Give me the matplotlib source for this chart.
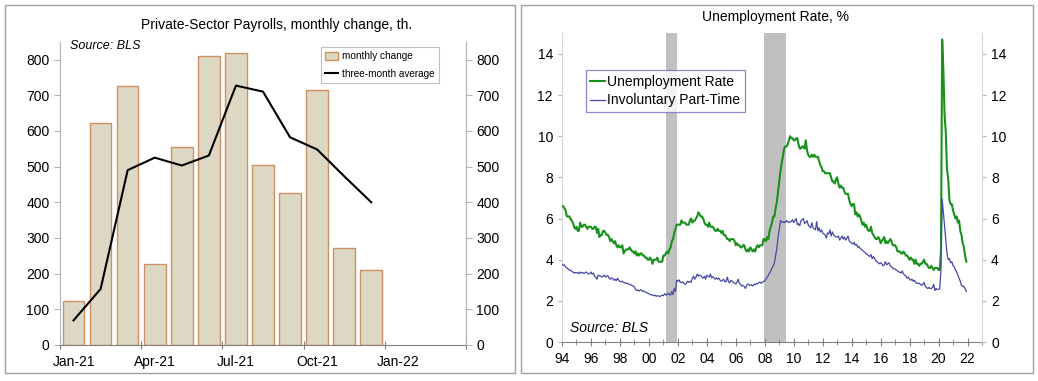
import matplotlib
matplotlib.use("Agg")
import matplotlib.pyplot as plt
from matplotlib.patches import Rectangle
import numpy as np

plt.rcParams['font.family'] = ['Liberation Sans', 'DejaVu Sans']

# left panel data: private payrolls, thousands
month_labels = ["Jan-21", "Apr-21", "Jul-21", "Oct-21", "Jan-22"]
payrolls = [122, 622, 725, 227, 556, 809, 818, 505, 425, 715, 271, 211]
three_month_avg = [69, 157, 490, 525, 503, 531, 727, 710, 582, 548, 473, 400]

# right panel data: monthly, Jan-1994 .. Dec-2021
unemp_rate = [
    6.6, 6.6, 6.5, 6.4, 6.1, 6.1, 6.1, 6.0, 5.9, 5.8, 5.6, 5.5,
    5.6, 5.4, 5.4, 5.8, 5.6, 5.6, 5.7, 5.7, 5.6, 5.5, 5.6, 5.6,
    5.6, 5.5, 5.5, 5.6, 5.6, 5.3, 5.5, 5.1, 5.2, 5.2, 5.4, 5.4,
    5.3, 5.2, 5.2, 5.1, 4.9, 5.0, 4.9, 4.8, 4.9, 4.7, 4.6, 4.7,
    4.6, 4.6, 4.7, 4.3, 4.4, 4.5, 4.5, 4.5, 4.6, 4.5, 4.4, 4.4,
    4.3, 4.4, 4.2, 4.3, 4.2, 4.3, 4.3, 4.2, 4.2, 4.1, 4.1, 4.0,
    4.0, 4.1, 4.0, 3.8, 4.0, 4.0, 4.0, 4.1, 3.9, 3.9, 3.9, 3.9,
    4.2, 4.2, 4.3, 4.4, 4.3, 4.5, 4.6, 4.9, 5.0, 5.3, 5.5, 5.7,
    5.7, 5.7, 5.7, 5.9, 5.8, 5.8, 5.8, 5.7, 5.7, 5.7, 5.9, 6.0,
    5.8, 5.9, 5.9, 6.0, 6.1, 6.3, 6.2, 6.1, 6.1, 6.0, 5.8, 5.7,
    5.7, 5.6, 5.8, 5.6, 5.6, 5.6, 5.5, 5.4, 5.4, 5.5, 5.4, 5.4,
    5.3, 5.4, 5.2, 5.2, 5.1, 5.0, 5.0, 4.9, 5.0, 5.0, 5.0, 4.9,
    4.7, 4.8, 4.7, 4.7, 4.6, 4.6, 4.7, 4.7, 4.5, 4.4, 4.5, 4.4,
    4.6, 4.5, 4.4, 4.5, 4.4, 4.6, 4.7, 4.6, 4.7, 4.7, 4.7, 5.0,
    5.0, 4.9, 5.1, 5.0, 5.4, 5.6, 5.8, 6.1, 6.1, 6.5, 6.8, 7.3,
    7.8, 8.3, 8.7, 9.0, 9.4, 9.5, 9.5, 9.6, 9.8, 10.0, 9.9, 9.9,
    9.8, 9.8, 9.9, 9.9, 9.6, 9.4, 9.4, 9.5, 9.5, 9.4, 9.8, 9.3,
    9.1, 9.0, 9.0, 9.1, 9.0, 9.1, 9.0, 9.0, 9.0, 8.8, 8.6, 8.5,
    8.3, 8.3, 8.2, 8.2, 8.2, 8.2, 8.2, 8.0, 7.8, 7.8, 7.7, 7.9,
    8.0, 7.7, 7.5, 7.6, 7.5, 7.5, 7.3, 7.2, 7.2, 7.2, 6.9, 6.7,
    6.6, 6.7, 6.7, 6.2, 6.3, 6.1, 6.2, 6.1, 5.9, 5.7, 5.8, 5.6,
    5.7, 5.5, 5.4, 5.4, 5.6, 5.3, 5.2, 5.1, 5.0, 5.0, 5.1, 5.0,
    4.8, 4.9, 5.0, 5.1, 4.8, 4.9, 4.8, 4.9, 5.0, 4.9, 4.7, 4.7,
    4.7, 4.6, 4.4, 4.4, 4.4, 4.3, 4.3, 4.4, 4.3, 4.2, 4.2, 4.1,
    4.0, 4.1, 4.0, 4.0, 3.8, 4.0, 3.8, 3.8, 3.7, 3.8, 3.8, 3.9,
    4.0, 3.8, 3.8, 3.7, 3.6, 3.6, 3.7, 3.6, 3.5, 3.6, 3.6, 3.6,
    3.5, 3.5, 4.4, 14.7, 13.2, 11.0, 10.2, 8.4, 7.9, 6.9, 6.7, 6.7,
    6.4, 6.2, 6.0, 6.1, 5.8, 5.9, 5.4, 5.2, 4.8, 4.6, 4.2, 3.9,
]
invol_part_time = [
    3.78, 3.72, 3.75, 3.65, 3.60, 3.55, 3.50, 3.48, 3.45, 3.40, 3.35, 3.38,
    3.35, 3.38, 3.32, 3.40, 3.35, 3.38, 3.33, 3.36, 3.40, 3.35, 3.30, 3.32,
    3.40, 3.30, 3.35, 3.20, 3.15, 3.05, 3.25, 3.22, 3.20, 3.15, 3.20, 3.25,
    3.15, 3.20, 3.22, 3.10, 3.05, 3.12, 3.08, 3.00, 3.05, 2.98, 3.10, 3.00,
    2.95, 2.92, 2.95, 2.90, 2.88, 2.85, 2.86, 2.82, 2.80, 2.78, 2.75, 2.72,
    2.68, 2.55, 2.50, 2.52, 2.48, 2.55, 2.50, 2.45, 2.48, 2.42, 2.40, 2.38,
    2.35, 2.30, 2.30, 2.28, 2.25, 2.28, 2.22, 2.25, 2.24, 2.20, 2.25, 2.27,
    2.25, 2.35, 2.28, 2.30, 2.38, 2.30, 2.28, 2.45, 2.30, 2.60, 2.45, 3.00,
    2.95, 3.02, 2.90, 2.88, 2.92, 2.85, 2.80, 2.85, 2.95, 2.90, 2.95, 2.90,
    3.10, 3.20, 3.05, 3.15, 3.30, 3.20, 3.25, 3.22, 3.15, 3.10, 3.20, 3.05,
    3.25, 3.20, 3.15, 3.30, 3.12, 3.18, 3.10, 3.05, 3.12, 3.05, 3.10, 3.00,
    2.95, 3.00, 3.05, 2.92, 2.95, 3.15, 2.92, 2.88, 3.00, 2.95, 2.90, 2.85,
    2.82, 2.90, 3.05, 2.85, 2.80, 2.72, 2.75, 2.70, 2.60, 2.75, 2.82, 2.78,
    2.75, 2.78, 2.72, 2.80, 2.78, 2.85, 2.82, 2.88, 2.92, 2.85, 2.90, 2.95,
    2.95, 3.05, 3.15, 3.25, 3.35, 3.45, 3.60, 3.70, 3.85, 4.20, 4.55, 5.10,
    5.45, 5.90, 5.85, 5.80, 5.85, 5.80, 5.90, 5.85, 5.80, 5.85, 5.85, 5.95,
    5.80, 5.90, 6.00, 5.70, 5.75, 5.65, 5.90, 5.95, 6.00, 5.75, 5.80, 5.90,
    5.70, 5.60, 5.55, 5.80, 5.55, 5.50, 5.45, 5.85, 5.40, 5.55, 5.35, 5.45,
    5.30, 5.25, 5.20, 5.05, 5.30, 5.25, 5.45, 5.15, 5.35, 5.20, 5.15, 5.10,
    5.10, 5.15, 4.95, 5.05, 5.15, 5.00, 5.10, 4.95, 5.05, 5.15, 4.90, 4.85,
    4.80, 4.75, 4.85, 4.70, 4.75, 4.60, 4.65, 4.55, 4.50, 4.45, 4.40, 4.35,
    4.30, 4.25, 4.20, 4.15, 4.25, 4.05, 4.15, 4.05, 3.95, 3.90, 3.85, 3.80,
    3.85, 3.80, 3.70, 3.75, 3.90, 3.75, 3.80, 3.85, 3.70, 3.65, 3.60, 3.55,
    3.55, 3.50, 3.45, 3.40, 3.40, 3.35, 3.45, 3.30, 3.25, 3.20, 3.10, 3.15,
    3.05, 3.00, 3.05, 2.95, 3.00, 2.90, 2.85, 2.85, 2.85, 2.80, 2.75, 2.80,
    2.90, 2.70, 2.65, 2.60, 2.65, 2.60, 2.60, 2.65, 2.80, 2.50, 2.60, 2.55,
    2.55, 2.60, 3.50, 6.95, 6.30, 5.60, 5.00, 4.30, 4.00, 4.05, 3.85, 3.90,
    3.70, 3.65, 3.50, 3.40, 3.25, 3.10, 2.95, 2.75, 2.70, 2.70, 2.60, 2.45,
]
recessions = [(2001.17, 2001.92), (2007.96, 2009.5)]
year_labels = ["94", "96", "98", "00", "02", "04", "06", "08",
               "10", "12", "14", "16", "18", "20", "22"]

SPINE = "#b4b4b4"
AXIS = "#808080"

fig = plt.figure(figsize=(10.38, 3.81), dpi=100)

# panel frames
for x0, x1 in [(5, 515), (521, 1033)]:
    fig.patches.append(Rectangle((x0 / 1038, 1 - 373 / 381), (x1 - x0) / 1038, 368 / 381,
                                 transform=fig.transFigure, fill=False,
                                 edgecolor="#a0a0a0", linewidth=1.0))

# ---------- left panel ----------
ax1 = fig.add_axes([60 / 1038, 1 - 345 / 381, 406 / 1038, 303.3 / 381])
xb = np.arange(len(payrolls)) + 0.5
bars = ax1.bar(xb, payrolls, width=0.8, color="#ddd8c3", edgecolor="#cc9062",
               linewidth=1.0, label="monthly change", zorder=2)
avg_line, = ax1.plot(xb, three_month_avg, color="black", linewidth=1.5,
                     label="three-month average", zorder=3)
ax1.set_xlim(0, 15)
ax1.set_ylim(0, 850)
ax1.set_yticks(range(0, 801, 100))
ax1.set_xticks([0, 3, 6, 9, 12, 15])
ax1.set_xticklabels([])
ax1.set_xticks(np.arange(len(month_labels)) * 3 + 0.5, minor=True)
ax1.set_xticklabels(month_labels, minor=True)
ax1.tick_params(axis="x", which="major", direction="inout", length=6, color=AXIS)
ax1.tick_params(axis="x", which="minor", length=0, labelsize=10, pad=7)
ax1.tick_params(axis="y", length=4, color=SPINE, labelsize=10)
ax1.spines["top"].set_visible(False)
ax1.spines["left"].set_color(SPINE)
ax1.spines["right"].set_color(SPINE)
ax1.spines["bottom"].set_color(AXIS)
ax1r = ax1.twinx()
ax1r.set_ylim(0, 850)
ax1r.set_yticks(range(0, 801, 100))
ax1r.tick_params(axis="y", length=4, color=SPINE, labelsize=10)
for s in ["top", "left", "bottom"]:
    ax1r.spines[s].set_visible(False)
ax1r.spines["right"].set_color(SPINE)

fig.text(277 / 1038, 1 - 25 / 381, "Private-Sector Payrolls, monthly change, th.",
         ha="center", va="center", fontsize=10)
ax1.text(0.025, 0.985, "Source: BLS", transform=ax1.transAxes, style="italic",
         fontsize=9, ha="left", va="center")
leg = ax1.legend([bars, avg_line], ["monthly change", "three-month average"],
                 loc="upper right", bbox_to_anchor=(0.946, 1.0), fontsize=7.2,
                 frameon=True, fancybox=False, handlelength=1.3, handleheight=0.9,
                 handletextpad=0.35, borderpad=0.45, labelspacing=0.75)
leg.get_frame().set_edgecolor("#b0b0b0")
leg.get_frame().set_linewidth(0.8)

# ---------- right panel ----------
ax2 = fig.add_axes([562 / 1038, 1 - 342 / 381, 420 / 1038, 308.7 / 381])
t = 1994 + np.arange(len(unemp_rate)) / 12
for r0, r1 in recessions:
    ax2.axvspan(r0, r1, color="#c0c0c0", linewidth=0, zorder=1)
ax2.plot(t, unemp_rate, color="#18921c", linewidth=1.5, label="Unemployment Rate", zorder=3)
ax2.plot(t, invol_part_time, color="#4848a8", linewidth=0.9,
         label="Involuntary Part-Time", zorder=3)
ax2.set_xlim(1994, 2023)
ax2.set_ylim(0, 15)
ax2.set_yticks(range(0, 15, 2))
ax2.set_xticks(np.arange(len(year_labels)) * 2 + 1994)
ax2.set_xticklabels(year_labels)
ax2.set_xticks(np.arange(1994, 2024), minor=True)
ax2.tick_params(axis="x", which="major", direction="inout", length=6, color=AXIS,
                labelsize=10, pad=4)
ax2.tick_params(axis="x", which="minor", direction="inout", length=4, color=AXIS)
ax2.tick_params(axis="y", length=3, color=SPINE, labelsize=10)
ax2.spines["top"].set_visible(False)
ax2.spines["left"].set_color("#d8d8d8")
ax2.spines["right"].set_color("#d8d8d8")
ax2.spines["bottom"].set_color(AXIS)
ax2r = ax2.twinx()
ax2r.set_ylim(0, 15)
ax2r.set_yticks(range(0, 15, 2))
ax2r.tick_params(axis="y", length=3, color=SPINE, labelsize=10)
for s in ["top", "left", "bottom"]:
    ax2r.spines[s].set_visible(False)
ax2r.spines["right"].set_color("#d8d8d8")

fig.text(776 / 1038, 1 - 17 / 381, "Unemployment Rate, %", ha="center", va="center",
         fontsize=10)
ax2.text(0.02, 0.045, "Source: BLS", transform=ax2.transAxes, style="italic",
         fontsize=10, ha="left", va="center")
leg2 = ax2.legend(loc="upper left", bbox_to_anchor=(0.057, 0.88), fontsize=10,
                  frameon=True, fancybox=False, handlelength=1.1, handletextpad=0.15,
                  borderpad=0.3, labelspacing=0.35, borderaxespad=0)
leg2.get_frame().set_edgecolor("#7070c0")
leg2.get_frame().set_linewidth(0.9)

fig.savefig("out.png", dpi=100)
